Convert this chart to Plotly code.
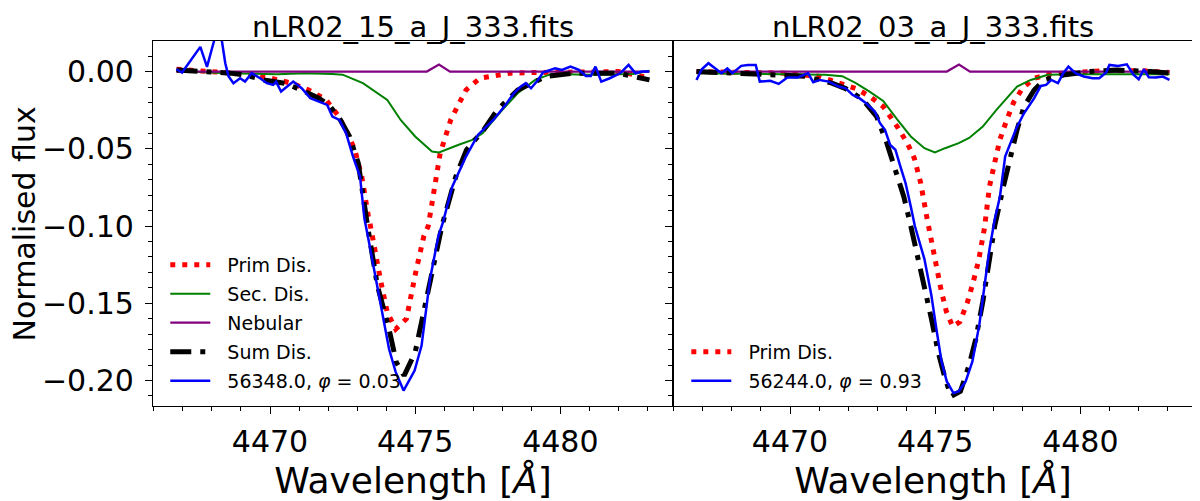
import plotly.graph_objects as go
from plotly.subplots import make_subplots

# --- left panel: nLR02_15_a_J_333.fits ---
wl_prim_l = [4466.78, 4468.14, 4469.08, 4470.03, 4470.74, 4471.33, 4471.92, 4472.33, 4472.62,
             4472.92, 4473.16, 4473.39, 4473.46, 4473.8, 4474.04, 4474.33, 4474.7, 4475.04,
             4475.3, 4475.45, 4475.86, 4476.23, 4476.75, 4477.23, 4477.82, 4478.29, 4479.12,
             4480.89, 4482.0, 4483.07]
prim_l = [0.0015, 0.0, -0.0015, -0.0043, -0.0075, -0.012, -0.018, -0.028, -0.038,
          -0.0506, -0.068, -0.094, -0.100, -0.1344, -0.156, -0.1667, -0.160, -0.128,
          -0.1065, -0.100, -0.053, -0.031, -0.0119, -0.0043, -0.0022, -0.001, -0.0006,
          0.0, 0.0, -0.004]

wl_sec_l = [4466.78, 4468.5, 4470.26, 4471.21, 4472.15, 4472.5, 4473.2, 4473.8, 4474.04,
            4474.5, 4475.0, 4475.58, 4475.82, 4476.5, 4476.97, 4477.32, 4477.95, 4478.53,
            4479.13, 4479.7, 4481.0, 4482.5, 4483.07]
sec_l = [0.0006, -0.001, -0.0017, -0.001, -0.0015, -0.002, -0.0075, -0.0151, -0.0183,
         -0.0313, -0.042, -0.0517, -0.0524, -0.0474, -0.0442, -0.0399, -0.0259, -0.014,
         -0.0054, -0.0015, -0.002, -0.0015, 0.0006]

wl_neb = [4466.78, 4475.4, 4475.82, 4476.2, 4483.07]
neb = [0.0, 0.0, 0.0045, 0.0, 0.0]

wl_sum_l = [4466.78, 4467.9, 4468.61, 4469.08, 4469.79, 4470.5, 4471.09, 4471.68, 4472.03,
            4472.39, 4472.74, 4473.04, 4473.27, 4473.36, 4473.7, 4474.1, 4474.35, 4474.62,
            4475.0, 4475.47, 4475.92, 4476.4, 4476.77, 4477.36, 4477.83, 4478.53, 4479.5,
            4480.5, 4482.0, 4483.07]
sum_l = [0.001, 0.0, -0.001, -0.002, -0.0054, -0.0075, -0.0119, -0.0172, -0.0216,
         -0.0302, -0.042, -0.0593, -0.0851, -0.100, -0.1387, -0.1667, -0.1882, -0.1968,
         -0.1817, -0.1387, -0.100, -0.0679, -0.0506, -0.0377, -0.0248, -0.0119, -0.0032,
         -0.001, -0.001, -0.0054]

wl_obs_l = [4466.78, 4466.97, 4467.6, 4467.83, 4468.06, 4468.2, 4468.35, 4468.46, 4468.57,
            4468.74, 4468.97, 4469.14, 4469.37, 4469.66, 4469.89, 4470.11, 4470.21, 4470.38,
            4470.8, 4471.09, 4471.39, 4471.68, 4471.97, 4472.15, 4472.39, 4472.62, 4472.86,
            4473.1, 4473.25, 4473.39, 4473.62, 4473.86, 4474.1, 4474.33, 4474.6, 4474.98,
            4475.22, 4475.51, 4475.8, 4475.95, 4476.28, 4476.75, 4477.16, 4477.69, 4478.11,
            4478.4, 4478.64, 4478.81, 4478.99, 4479.23, 4479.4, 4479.82, 4480.05, 4480.35,
            4480.64, 4480.88, 4481.05, 4481.21, 4481.41, 4481.7, 4482.06, 4482.35, 4482.59,
            4482.82, 4483.06]
obs_l = [0.0015, -0.0006, 0.016, 0.003, 0.019, 0.032, 0.019, 0.0054, -0.003,
         -0.0075, -0.0043, -0.0065, -0.001, -0.0043, -0.0075, -0.0086, -0.0065, -0.0129,
         -0.0065, -0.0108, -0.0172, -0.0194, -0.0216, -0.0291, -0.0313, -0.0399, -0.055,
         -0.0679, -0.095, -0.1086, -0.1323, -0.156, -0.1796, -0.1946, -0.2065, -0.1936,
         -0.1774, -0.1344, -0.1065, -0.098, -0.0744, -0.055, -0.041, -0.0313, -0.0216,
         -0.014, -0.0097, -0.0075, -0.0108, -0.0054, -0.0006, 0.0022, 0.0011, 0.0032,
         0.0011, -0.0028, -0.0028, 0.0032, -0.0065, -0.0043, -0.0011, 0.0043, -0.0011,
         0.0, 0.0]

# --- right panel: nLR02_03_a_J_333.fits ---
wl_prim_r = [4466.78, 4469.79, 4470.97, 4471.68, 4472.27, 4472.74, 4473.21, 4473.69, 4474.04,
             4474.28, 4474.5, 4474.72, 4474.9, 4475.05, 4475.2, 4475.38, 4475.6, 4475.85,
             4476.1, 4476.3, 4476.5, 4476.7, 4476.87, 4477.05, 4477.23, 4477.47, 4477.7,
             4478.0, 4478.41, 4479.0, 4479.71, 4480.89, 4482.07, 4483.07]
prim_r = [0.0, -0.001, -0.003, -0.0075, -0.011, -0.016, -0.0226, -0.0356, -0.0463,
          -0.056, -0.072, -0.095, -0.113, -0.127, -0.141, -0.155, -0.165, -0.162,
          -0.150, -0.137, -0.122, -0.101, -0.0744, -0.059, -0.044, -0.031, -0.020,
          -0.011, -0.0043, -0.0015, -0.001, 0.0006, 0.0006, -0.0006]

wl_sec_r = [4466.78, 4470.26, 4471.21, 4471.8, 4472.27, 4472.74, 4473.21, 4473.69, 4474.16,
            4474.63, 4474.99, 4475.34, 4475.81, 4476.17, 4476.64, 4477.11, 4477.47, 4477.82,
            4478.29, 4478.88, 4479.71, 4483.07]
sec_r = [-0.001, -0.0017, -0.002, -0.003, -0.0075, -0.013, -0.019, -0.031, -0.042,
         -0.0496, -0.0524, -0.0496, -0.0463, -0.043, -0.0356, -0.0248, -0.0172, -0.0097,
         -0.0054, -0.002, -0.0017, -0.0017]

wl_sum_r = [4466.78, 4469.08, 4470.5, 4471.44, 4471.92, 4472.5, 4472.98, 4473.33, 4473.69,
            4473.92, 4474.16, 4474.51, 4474.87, 4475.1, 4475.34, 4475.55, 4475.87, 4476.17,
            4476.4, 4476.64, 4476.88, 4477.05, 4477.35, 4477.58, 4477.82, 4478.06, 4478.41,
            4478.76, 4479.47, 4480.3, 4481.24, 4482.42, 4483.07]
sum_r = [0.0, -0.0015, -0.003, -0.0075, -0.011, -0.018, -0.029, -0.046, -0.068,
         -0.081, -0.100, -0.128, -0.160, -0.1814, -0.1985, -0.2103, -0.207, -0.190,
         -0.173, -0.149, -0.121, -0.100, -0.0744, -0.055, -0.0377, -0.0226, -0.0119,
         -0.0054, -0.002, 0.0, 0.001, 0.0, -0.001]

wl_obs_r = [4466.78, 4466.96, 4467.19, 4467.43, 4467.64, 4467.84, 4468.02, 4468.32, 4468.55,
            4468.82, 4468.96, 4469.32, 4469.61, 4469.91, 4470.26, 4470.62, 4470.8, 4471.03,
            4471.33, 4471.68, 4471.92, 4472.15, 4472.39, 4472.62, 4472.92, 4473.1, 4473.27,
            4473.45, 4473.63, 4473.8, 4473.98, 4474.16, 4474.3, 4474.63, 4474.87, 4475.04,
            4475.22, 4475.4, 4475.63, 4475.81, 4476.05, 4476.28, 4476.52, 4476.7, 4476.87,
            4477.05, 4477.23, 4477.41, 4477.64, 4477.82, 4478.06, 4478.41, 4478.64, 4478.82,
            4479.0, 4479.23, 4479.41, 4479.59, 4479.83, 4480.12, 4480.42, 4480.65, 4480.89,
            4481.0, 4481.3, 4481.6, 4481.83, 4482.01, 4482.19, 4482.36, 4482.6, 4482.84,
            4483.07]
obs_r = [-0.0054, 0.0015, 0.0054, 0.002, -0.001, 0.002, -0.001, 0.0037, 0.0043,
         0.0043, -0.0065, -0.006, -0.008, -0.0039, -0.0039, -0.001, -0.0069, -0.0054,
         -0.0065, -0.0097, -0.0108, -0.015, -0.0172, -0.0205, -0.0259, -0.0334, -0.0377,
         -0.0474, -0.0506, -0.0614, -0.0722, -0.0873, -0.100, -0.1214, -0.145, -0.1664,
         -0.1878, -0.2006, -0.2081, -0.207, -0.2006, -0.1878, -0.164, -0.1385, -0.115,
         -0.0957, -0.081, -0.055, -0.044, -0.0356, -0.027, -0.0172, -0.0093, -0.0086,
         -0.0054, -0.0075, -0.001, 0.0032, -0.001, -0.0032, -0.0043, -0.0043, -0.0006,
         0.0043, 0.0037, 0.0047, -0.002, -0.005, 0.0015, -0.0037, -0.0039, -0.0032,
         -0.0054]

titles = ["nLR02_15_a_J_333.fits", "nLR02_03_a_J_333.fits"]
pad = "\u00a0\u00a0"  # small gap between legend sample and label, like matplotlib
obs_labels = ["56348.0, <i>φ</i> = 0.03", "56244.0, <i>φ</i> = 0.93"]

fig = make_subplots(rows=1, cols=2, shared_yaxes=True, horizontal_spacing=0,
                    subplot_titles=titles)

red_line = dict(color="red", width=5, dash="5px,7px")
green_line = dict(color="green", width=2)
purple_line = dict(color="purple", width=2.2)
black_line = dict(color="black", width=5, dash="21px,9px,5px,9px")
blue_line = dict(color="blue", width=2.5)

# left panel, every curve in the legend
fig.add_trace(go.Scatter(x=wl_prim_l, y=prim_l, mode="lines", line=red_line,
                         name=pad + "Prim Dis.", legendgroup="a1", legend="legend"), 1, 1)
fig.add_trace(go.Scatter(x=wl_sec_l, y=sec_l, mode="lines", line=green_line,
                         name=pad + "Sec. Dis.", legendgroup="a2", legend="legend"), 1, 1)
fig.add_trace(go.Scatter(x=wl_neb, y=neb, mode="lines", line=purple_line,
                         name=pad + "Nebular", legendgroup="a3", legend="legend"), 1, 1)
fig.add_trace(go.Scatter(x=wl_sum_l, y=sum_l, mode="lines", line=black_line,
                         name=pad + "Sum Dis.", legendgroup="a4", legend="legend"), 1, 1)
fig.add_trace(go.Scatter(x=wl_obs_l, y=obs_l, mode="lines", line=blue_line,
                         name=pad + obs_labels[0], legendgroup="a5", legend="legend"), 1, 1)

# right panel, only primary + observation in the legend
fig.add_trace(go.Scatter(x=wl_prim_r, y=prim_r, mode="lines", line=red_line,
                         name=pad + "Prim Dis.", legendgroup="b1", legend="legend2"), 1, 2)
fig.add_trace(go.Scatter(x=wl_sec_r, y=sec_r, mode="lines", line=green_line,
                         showlegend=False), 1, 2)
fig.add_trace(go.Scatter(x=wl_neb, y=neb, mode="lines", line=purple_line,
                         showlegend=False), 1, 2)
fig.add_trace(go.Scatter(x=wl_sum_r, y=sum_r, mode="lines", line=black_line,
                         showlegend=False), 1, 2)
fig.add_trace(go.Scatter(x=wl_obs_r, y=obs_r, mode="lines", line=blue_line,
                         name=pad + obs_labels[1], legendgroup="b2", legend="legend2"), 1, 2)

axis_style = dict(showline=True, mirror=True, linecolor="black", linewidth=1.3,
                  showgrid=False, zeroline=False, ticks="outside", ticklen=7,
                  tickwidth=1.3, tickcolor="black", automargin=False)

fig.update_xaxes(axis_style, range=[4465.97, 4483.88], tickvals=[4470, 4475, 4480],
                 minor=dict(ticks="outside", dtick=1, tick0=4470, ticklen=4,
                            tickwidth=1, tickcolor="black"),
                 title=dict(text="Wavelength [<i>Å</i>]", standoff=6),
                 ticklabelstandoff=2)
fig.update_yaxes(axis_style, range=[-0.2165, 0.0198],
                 tickvals=[0, -0.05, -0.1, -0.15, -0.2], tickformat=".2f",
                 minor=dict(ticks="outside", dtick=0.01, tick0=0, ticklen=4,
                            tickwidth=1, tickcolor="black"))
fig.update_yaxes(ticklabelstandoff=5, row=1, col=1)

legend_style = dict(xanchor="left", yanchor="bottom", y=0.017, bgcolor="rgba(0,0,0,0)",
                    font=dict(size=19), tracegroupgap=1.3, itemwidth=40)

# the html page keeps the browser's 8px body margin, so the figure is 8px smaller
fig.update_layout(
    width=1192, height=493,
    margin=dict(l=145, r=7, t=33, b=95),
    plot_bgcolor="white", paper_bgcolor="white",
    font=dict(family="DejaVu Sans", size=30, color="black"),
    legend=dict(legend_style, x=0.0118),
    legend2=dict(legend_style, x=0.5128),
)
fig.update_annotations(font=dict(size=29, family="DejaVu Sans"), yshift=-5)

# y title as a rotated annotation so it sits as far left as in the original
fig.add_annotation(text="Normalised flux", textangle=-90, xref="paper", yref="paper",
                   x=-0.1231, y=0.5, xanchor="center", yanchor="middle",
                   showarrow=False, font=dict(size=30, family="DejaVu Sans"))

fig.write_html("out.html")
